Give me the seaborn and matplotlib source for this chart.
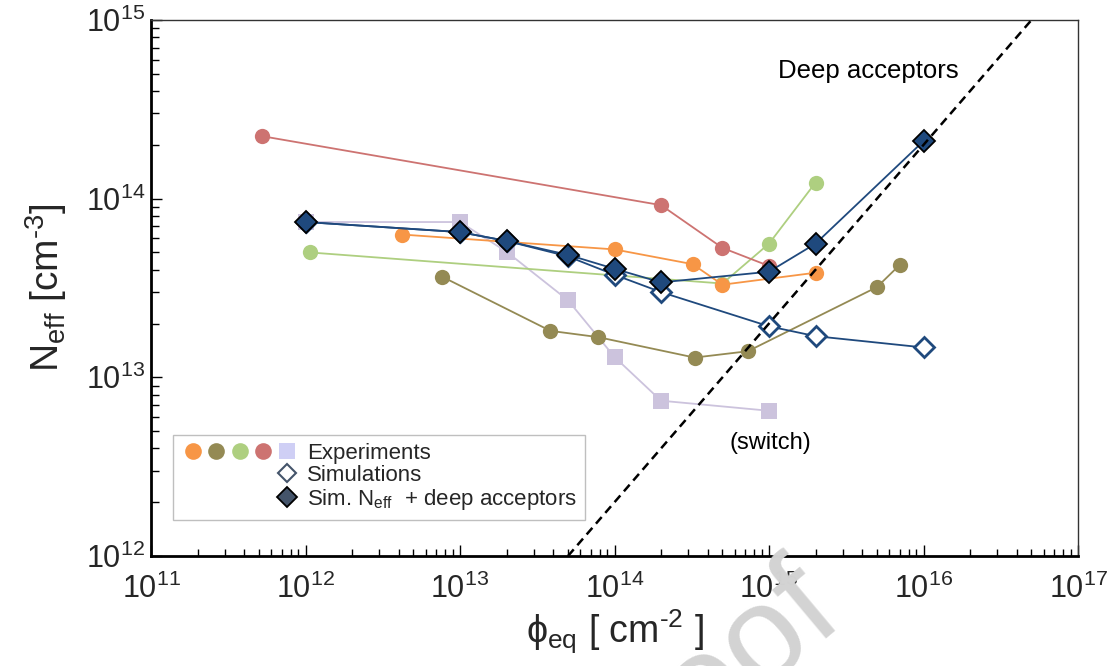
import numpy as np
import pandas as pd
import matplotlib
matplotlib.use("Agg")
import matplotlib.pyplot as plt
import seaborn as sns
from matplotlib.lines import Line2D
from matplotlib.legend_handler import HandlerTuple
from matplotlib.ticker import FixedLocator, LogLocator, NullFormatter

# ---------------- data ----------------
red_x = [5.2e11, 2e14, 5e14, 1e15]
red_y = [2.24e14, 9.2e13, 5.3e13, 4.2e13]
orange_x = [4.2e12, 1e14, 3.2e14, 5e14, 2e15]
orange_y = [6.3e13, 5.2e13, 4.3e13, 3.3e13, 3.85e13]
green_x = [1.07e12, 5e14, 1e15, 2e15]
green_y = [5.0e13, 3.35e13, 5.6e13, 1.23e14]
olive_x = [7.7e12, 3.85e13, 7.8e13, 3.3e14, 7.3e14, 5e15, 7e15]
olive_y = [3.65e13, 1.82e13, 1.68e13, 1.29e13, 1.4e13, 3.2e13, 4.25e13]
lav_x = [1e12, 1e13, 2e13, 5e13, 1e14, 2e14, 1e15]
lav_y = [7.4e13, 7.4e13, 5.05e13, 2.7e13, 1.3e13, 7.4e12, 6.5e12]
sim_x = [1e12, 1e13, 2e13, 5e13, 1e14, 2e14, 1e15, 2e15, 1e16]
sim_y = [7.4e13, 6.5e13, 5.8e13, 4.75e13, 3.75e13, 3.0e13, 1.93e13, 1.7e13, 1.47e13]
deep_x = [1e12, 1e13, 2e13, 5e13, 1e14, 2e14, 1e15, 2e15, 1e16]
deep_y = [7.4e13, 6.5e13, 5.8e13, 4.85e13, 4.05e13, 3.4e13, 3.9e13, 5.6e13, 2.1e14]
acc_x = [5e13, 5e16]
acc_y = [1e12, 1e15]
x_ticks = [1e11, 1e12, 1e13, 1e14, 1e15, 1e16, 1e17]
x_ticklabels = ["10$^{11}$", "10$^{12}$", "10$^{13}$", "10$^{14}$", "10$^{15}$", "10$^{16}$", "10$^{17}$"]
y_ticks = [1e12, 1e13, 1e14, 1e15]
y_ticklabels = ["10$^{12}$", "10$^{13}$", "10$^{14}$", "10$^{15}$"]

# ---------------- style ----------------
sns.set_theme(style="white")
plt.rcParams["font.family"] = ["Liberation Sans", "DejaVu Sans"]
plt.rcParams["mathtext.fontset"] = "custom"
plt.rcParams["mathtext.rm"] = "Liberation Sans"
plt.rcParams["mathtext.it"] = "Liberation Sans:italic"
plt.rcParams["mathtext.bf"] = "Liberation Sans:bold"
plt.rcParams["mathtext.default"] = "regular"

C_RED = "#CD7371"
C_ORANGE = "#F79646"
C_GREEN = "#AECF80"
C_OLIVE = "#948A54"
C_LAV = "#CCC3DD"
C_BLUE = "#1F497D"

fig = plt.figure(figsize=(11.17, 6.66), dpi=100)
ax = fig.add_axes([151 / 1117, 1 - 556 / 666, (1078 - 151) / 1117, (556 - 20) / 666])

def series(x, y, color, marker, ms, lw=1.3, mfc=None, mec=None, mew=0.0, z=2):
    df = pd.DataFrame({"x": x, "y": y})
    sns.lineplot(data=df, x="x", y="y", ax=ax, sort=False, estimator=None,
                 color=color, lw=lw, marker=marker, markersize=ms,
                 markerfacecolor=mfc if mfc else color,
                 markeredgecolor=mec if mec else color,
                 markeredgewidth=mew, zorder=z)

series(lav_x, lav_y, C_LAV, "s", 11, lw=1.3, z=2)
series(olive_x, olive_y, C_OLIVE, "o", 11, z=3)
series(green_x, green_y, C_GREEN, "o", 11, z=3)
series(red_x, red_y, C_RED, "o", 11, z=3)
series(orange_x, orange_y, C_ORANGE, "o", 11, z=3.2)
series(sim_x, sim_y, C_BLUE, "D", 10, lw=1.3, mfc="white", mec=C_BLUE, mew=2.0, z=4)
series(deep_x, deep_y, C_BLUE, "D", 11, lw=1.3, mfc=C_BLUE, mec="black", mew=1.3, z=5)

ax.plot(acc_x, acc_y, color="black", lw=1.8, ls=(0, (3.5, 2.2)), zorder=6)

ax.set_xscale("log")
ax.set_yscale("log")
ax.set_xlim(1e11, 1e17)
ax.set_ylim(1e12, 1e15)

ax.xaxis.set_major_locator(FixedLocator(x_ticks))
ax.set_xticklabels(x_ticklabels, fontsize=22)
ax.yaxis.set_major_locator(FixedLocator(y_ticks))
ax.set_yticklabels(y_ticklabels, fontsize=22)
ax.xaxis.set_minor_locator(LogLocator(base=10, subs=np.arange(2, 10), numticks=50))
ax.yaxis.set_minor_locator(LogLocator(base=10, subs=np.arange(2, 10), numticks=50))
ax.xaxis.set_minor_formatter(NullFormatter())
ax.yaxis.set_minor_formatter(NullFormatter())
ax.tick_params(axis="both", which="major", direction="in", length=8, width=1.0,
               color="black", bottom=True, left=True, top=False, right=False)
ax.tick_params(axis="both", which="minor", direction="in", length=5, width=1.0,
               color="black", bottom=True, left=True, top=False, right=False)
ax.tick_params(axis="y", which="minor", length=6)
ax.tick_params(axis="x", which="major", pad=13)
ax.tick_params(axis="y", which="major", pad=4)

for s in ["left", "bottom"]:
    ax.spines[s].set_color("black")
    ax.spines[s].set_linewidth(2.0)
for s in ["top", "right"]:
    ax.spines[s].set_color("#333333")
    ax.spines[s].set_linewidth(1.0)

ax.set_xlabel("ϕ$_{\\rm eq}$ [ cm$^{\\text{-2}}$ ]", fontsize=27, labelpad=2)
ax.set_ylabel("N$_{\\rm eff}$ [cm$^{\\text{-3}}$]", fontsize=28, labelpad=12)

ax.text(0.676, 0.905, "Deep acceptors", transform=ax.transAxes, fontsize=18.5,
        ha="left", va="center", color="black")
ax.text(0.668, 0.210, "(switch)", transform=ax.transAxes, fontsize=17,
        ha="center", va="center", color="black")

# ---------------- legend ----------------
blank = Line2D([], [], ls="none", marker="o", markersize=11, alpha=0)
row1 = tuple(Line2D([], [], ls="none", marker="o", markersize=12, color=c, markeredgewidth=0)
             for c in [C_ORANGE, C_OLIVE, C_GREEN, C_RED]) + (
    Line2D([], [], ls="none", marker="s", markersize=12, color="#CFCFF5", markeredgewidth=0),)
row2 = (blank, blank, blank, blank,
        Line2D([], [], ls="none", marker="D", markersize=9.5, markerfacecolor="white",
               markeredgecolor="#44546A", markeredgewidth=1.5))
row3 = (blank, blank, blank, blank,
        Line2D([], [], ls="none", marker="D", markersize=10.5, markerfacecolor="#44546A",
               markeredgecolor="black", markeredgewidth=1.3))
leg = ax.legend([row1, row2, row3],
                ["Experiments", "Simulations", "Sim. N$_{\\rm eff}$  + deep acceptors"],
                handler_map={tuple: HandlerTuple(ndivide=None, pad=0.0)},
                loc="upper left", bbox_to_anchor=(0.0237, 0.2257), borderaxespad=0,
                fontsize=16, handlelength=5.3, handletextpad=0.38, labelspacing=0.05,
                borderpad=0.35, fancybox=False, frameon=True, framealpha=1)
leg.get_frame().set_edgecolor("#BFBFBF")
leg.get_frame().set_linewidth(1.0)
leg.set_zorder(7)

# watermark
fig.text(845 / 1117, 1 - 614 / 666, "Proof", fontsize=98, color="#D3D3D3",
         rotation=40, rotation_mode="anchor", ha="right", va="baseline", zorder=10)

fig.savefig("out.png", dpi=100)
